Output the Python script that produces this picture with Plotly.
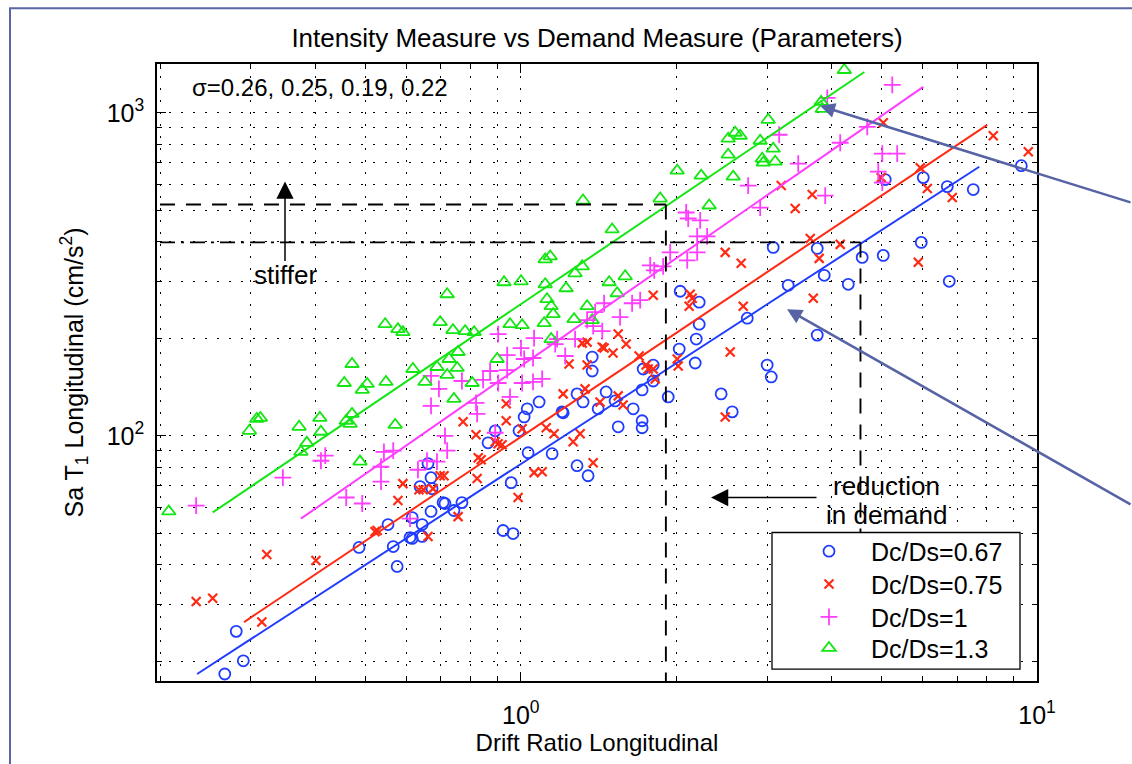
import plotly.graph_objects as go

# ---------------- data ----------------
blue_x = [0.267, 0.281, 0.290, 0.486, 0.566, 0.576, 0.553, 0.610, 0.616, 0.616,
          0.644, 0.644, 0.670, 0.707, 0.713, 0.742, 0.769, 0.638, 0.670, 0.661,
          0.673, 0.864, 0.892, 0.924, 0.958, 0.966, 0.992, 1.015, 1.029, 1.085,
          1.033, 1.150, 1.202, 1.208, 1.285, 1.320, 1.285, 1.350, 1.375, 1.375,
          1.412, 1.463, 1.523, 1.544, 1.651, 1.718, 1.718, 1.718, 1.726, 1.805,
          1.805, 1.930, 2.027, 2.177, 2.187, 2.216, 2.216, 2.444, 2.568, 2.746,
          3.001, 3.056, 3.752, 3.083, 3.752, 3.871, 3.296, 4.309, 4.585, 2.036,
          5.082, 6.021, 6.702, 7.525, 9.324, 5.967, 5.037, 6.761]
blue_y = [18.3, 24.8, 20.1, 45.1, 45.4, 39.4, 53.1, 48.4, 48.1, 55.8,
          48.8, 53.1, 58.3, 62.1, 61.7, 58.7, 62.1, 69.6, 74.2, 82.0,
          68.6, 95.1, 103.6, 50.9, 71.6, 49.8, 103.6, 114.4, 121.2, 127.3,
          88.6, 88.0, 118.6, 117.8, 134.8, 127.3, 80.8, 75.2, 175.3, 158.7,
          121.2, 136.7, 128.2, 106.6, 121.2, 111.3, 105.9, 138.7, 161.0, 165.6,
          147.8, 131.9, 185.5, 168.0, 199.3, 221.6, 259.2, 134.8, 118.6, 231.3,
          165.6, 152.1, 205.0, 383.1, 380.4, 314.0, 292.4, 294.5, 356.8, 280.2,
          621.3, 630.1, 591.0, 578.5, 686.0, 397.0, 361.9, 300.9]

red_x = [0.235, 0.253, 0.315, 0.322, 0.401, 0.522, 0.527, 0.578, 0.591, 0.635,
         0.647, 0.661, 0.676, 0.698, 0.710, 0.756, 0.773, 0.819, 0.827, 0.838,
         0.823, 0.892, 0.904, 0.920, 0.937, 0.937, 0.988, 1.006, 1.061, 1.100,
         1.120, 1.160, 1.208, 1.240, 1.263, 1.303, 1.315, 1.344, 1.332, 1.344,
         1.381, 1.424, 1.438, 1.450, 1.509, 1.544, 1.544, 1.578, 1.600, 1.695,
         1.749, 1.765, 1.805, 1.821, 2.009, 2.018, 2.119, 2.148, 2.129, 1.805,
         2.489, 2.545, 2.697, 3.686, 2.489, 2.673, 3.195, 3.401, 3.669, 3.637,
         3.785, 4.157, 5.037, 8.228, 9.619, 5.940, 6.130, 6.853, 5.888, 4.992]
red_y = [30.7, 31.4, 26.5, 42.9, 41.1, 50.5, 50.9, 63.0, 71.1, 68.1,
         68.1, 48.8, 68.6, 75.2, 75.2, 56.2, 110.5, 100.7, 85.5, 84.3,
         73.7, 95.8, 94.5, 93.8, 125.6, 111.3, 64.4, 105.1, 76.9, 77.4,
         105.9, 101.4, 134.8, 166.8, 95.8, 101.4, 193.6, 195.0, 139.7, 165.6,
         82.5, 127.3, 188.2, 186.9, 180.4, 206.5, 132.9, 124.6, 192.3, 176.6,
         165.6, 161.0, 161.0, 150.0, 172.9, 164.4, 251.9, 266.6, 274.3, 272.3,
         114.4, 181.7, 251.9, 266.6, 369.8, 342.0, 595.3, 505.4, 558.4, 408.4,
         354.3, 391.4, 931.3, 849.2, 757.8, 676.4, 582.7, 546.7, 344.4, 630.1]

mag_x = [0.235, 0.346, 0.410, 0.418, 0.459, 0.493, 0.536, 0.536, 0.543, 0.566,
         0.610, 0.632, 0.658, 0.670, 0.688, 0.694, 0.713, 0.720, 0.670, 0.769,
         0.819, 0.823, 0.845, 0.872, 0.904, 0.904, 0.892, 0.941, 0.941, 0.953,
         1.001, 1.006, 1.015, 1.061, 1.056, 1.056, 1.100, 1.166, 1.176, 1.219,
         1.274, 1.344, 1.381, 1.438, 1.450, 1.393, 1.557, 1.643, 1.703, 1.781,
         1.813, 1.887, 1.947, 2.091, 2.110, 2.226, 2.196, 2.296, 2.196, 2.101,
         2.757, 2.909, 3.166, 3.447, 3.888, 3.923, 4.157, 4.689, 5.015, 5.360,
         4.926, 5.015, 5.243]
mag_y = [60.8, 74.2, 83.7, 86.8, 64.4, 61.7, 80.2, 72.1, 89.2, 89.9,
         55.4, 78.5, 83.7, 123.8, 83.2, 139.7, 100.0, 89.9, 153.2, 147.8,
         126.4, 116.9, 148.9, 158.7, 145.7, 206.5, 102.2, 177.8, 159.8, 131.9,
         186.9, 145.7, 172.9, 200.7, 174.1, 146.8, 150.0, 192.3, 199.3, 176.6,
         199.3, 228.0, 218.5, 210.9, 257.3, 241.4, 232.9, 257.3, 262.9, 337.2,
         325.4, 334.8, 369.8, 491.3, 470.8, 464.2, 414.3, 414.3, 369.8, 349.3,
         595.3, 509.0, 855.2, 696.0, 554.4, 1112.0, 808.0, 905.3, 747.3, 747.3,
         657.5, 608.2, 1220.0]

green_x = [0.208, 0.298, 0.308, 0.313, 0.372, 0.385, 0.375, 0.408, 0.410, 0.459,
           0.467, 0.471, 0.488, 0.571, 0.455, 0.471, 0.493, 0.504, 0.548, 0.546,
           0.578, 0.591, 0.618, 0.652, 0.688, 0.698, 0.720, 0.726, 0.739, 0.742,
           0.753, 0.756, 0.780, 0.805, 0.812, 0.900, 0.720, 0.953, 1.006, 0.928,
           1.001, 1.115, 1.124, 1.145, 1.155, 1.110, 1.145, 1.224, 1.268, 1.344,
           1.375, 1.483, 1.537, 1.320, 1.503, 1.274, 1.315, 1.593, 1.862, 2.009,
           2.236, 2.317, 2.579, 2.522, 2.522, 2.602, 2.661, 2.909, 3.015, 3.083,
           2.935, 2.949, 3.110, 4.233, 3.819, 3.836, 1.115, 1.140]
green_y = [58.3, 103.6, 112.8, 113.6, 106.6, 95.1, 89.2, 113.6, 102.9, 111.3,
           108.9, 116.9, 83.2, 108.1, 145.7, 166.8, 138.7, 144.7, 146.8, 221.6,
           213.9, 209.4, 161.0, 146.8, 163.3, 224.9, 154.3, 172.9, 212.4, 130.1,
           162.2, 181.7, 210.9, 145.7, 209.4, 172.9, 274.3, 221.6, 220.0, 298.8,
           300.9, 294.5, 264.8, 251.9, 238.0, 223.2, 199.3, 286.3, 229.7, 251.9,
           228.0, 298.8, 276.3, 535.1, 435.4, 318.5, 334.8, 311.8, 542.8, 662.2,
           639.1, 516.4, 634.6, 742.0, 831.5, 867.7, 849.2, 819.6, 951.4, 774.3,
           721.1, 701.0, 706.1, 1357.0, 1081.0, 1028.0, 351.8, 359.4]

# fitted lines (end points)
blue_fit_x, blue_fit_y = [0.236, 7.73], [18.3, 681.0]
red_fit_x, red_fit_y = [0.291, 8.01], [26.5, 918.0]
mag_fit_x, mag_fit_y = [0.375, 6.02], [55.4, 1203.0]
green_fit_x, green_fit_y = [0.253, 4.63], [57.9, 1338.0]

# reference (threshold) lines
upper_level, lower_level = 520.0, 397.0
upper_drift, lower_drift = 1.91, 4.55
ref_left = 0.2
v2_bottom = 43.0
axis_bottom = 17.0

labels = ["Dc/Ds=0.67", "Dc/Ds=0.75", "Dc/Ds=1", "Dc/Ds=1.3"]
x_tickvals = [1, 10]
x_ticktext = ["10<sup>0</sup>", "10<sup>1</sup>"]
y_tickvals = [100, 1000]
y_ticktext = ["10<sup>2</sup>", "10<sup>3</sup>"]

# ---------------- figure ----------------
FONT = "Liberation Sans, Arial, Helvetica, sans-serif"
BLUE, RED, MAG, GREEN = "#1f3cff", "#ff2a14", "#ff3dff", "#14e614"

W, H = 1132, 764
L, R, T, B = 157, 95, 64, 81
PW, PH = W - L - R, H - T - B


def px(xp):
    return (xp - L) / PW


def py(yp):
    return (H - B - yp) / PH


fig = go.Figure()

series = [
    (labels[0], blue_x, blue_y, "circle-open", 11, BLUE, "legend", 1.8),
    (labels[1], red_x, red_y, "x-thin-open", 9, RED, "legend2", 2.2),
    (labels[2], mag_x, mag_y, "cross-thin-open", 12, MAG, "legend3", 1.8),
    (labels[3], green_x, green_y, "triangle-up-open", 12, GREEN, "legend4", 1.8),
]
for name, xs, ys, sym, size, col, leg, lw in series:
    fig.add_trace(go.Scatter(
        x=xs, y=ys, mode="markers", name=name, legend=leg,
        marker=dict(symbol=sym, size=size, color=col, line=dict(width=lw, color=col)),
    ))

for fx, fy, col in [(blue_fit_x, blue_fit_y, BLUE), (red_fit_x, red_fit_y, RED),
                    (mag_fit_x, mag_fit_y, MAG), (green_fit_x, green_fit_y, GREEN)]:
    fig.add_trace(go.Scatter(x=fx, y=fy, mode="lines", showlegend=False,
                             line=dict(color=col, width=2)))

dash = "15px,11px"
dashdot = "15px,6px,3px,6px"
ref_lines = [
    ([ref_left, upper_drift], [upper_level, upper_level], dash),
    ([upper_drift, upper_drift], [upper_level, axis_bottom], dash),
    ([ref_left, lower_drift], [lower_level, lower_level], dashdot),
    ([lower_drift, lower_drift], [lower_level, v2_bottom], dash),
]
for rx, ry, d in ref_lines:
    fig.add_trace(go.Scatter(x=rx, y=ry, mode="lines", showlegend=False,
                             line=dict(color="black", width=1.9, dash=d)))

grid_dash = "2px,10px"
axis_common = dict(
    type="log", showline=True, linecolor="black", linewidth=1.5, mirror="ticks",
    ticks="inside", ticklen=9, tickwidth=1.2, tickcolor="black",
    showgrid=True, gridcolor="black", gridwidth=1, griddash=grid_dash,
    zeroline=False, tickmode="array",
    tickfont=dict(family=FONT, size=25, color="black"),
    minor=dict(ticks="inside", ticklen=5, tickwidth=1, tickcolor="black",
               showgrid=True, gridcolor="black", gridwidth=1, griddash=grid_dash,
               dtick="D1"),
)

fig.update_layout(
    width=W, height=H, autosize=False,
    margin=dict(l=L, r=R, t=T, b=B, pad=0),
    paper_bgcolor="white", plot_bgcolor="white",
    font=dict(family=FONT, color="black"),
    title=dict(text="Intensity Measure vs Demand Measure (Parameters)",
               x=0.5, xref="paper", xanchor="center",
               y=1 - 38 / H, yref="container", yanchor="middle",
               font=dict(family=FONT, size=26, color="black")),
    xaxis=dict(axis_common, range=[-0.7048, 1.0], tickvals=x_tickvals, ticktext=x_ticktext,
               ticklabelstandoff=11,
               title=dict(text="Drift Ratio Longitudinal", standoff=6,
                          font=dict(family=FONT, size=24, color="black"))),
    yaxis=dict(axis_common, range=[1.2407, 3.1512], tickvals=y_tickvals, ticktext=y_ticktext,
               ticklabelstandoff=6,
               title=dict(text="Sa T<sub>1</sub> Longitudinal (cm/s<sup>2</sup>)", standoff=16,
                          font=dict(family=FONT, size=25, color="black"))),
)

leg_rows = [553, 586, 619, 650]
for key, row in zip(["legend", "legend2", "legend3", "legend4"], leg_rows):
    fig.update_layout({key: dict(x=px(787), y=py(row), xanchor="left", yanchor="middle",
                                 bgcolor="rgba(0,0,0,0)", borderwidth=0, itemwidth=74,
                                 font=dict(family=FONT, size=25, color="black"))})

# legend box
fig.add_shape(type="rect", xref="paper", yref="paper",
              x0=px(772), x1=px(1020), y0=py(671), y1=py(534),
              line=dict(color="black", width=1.3), fillcolor="white", layer="above")
# outer frame
fig.add_shape(type="rect", xref="paper", yref="paper",
              x0=px(10), x1=px(1145), y0=py(775), y1=py(8),
              line=dict(color="#5a66a6", width=2), fillcolor="rgba(0,0,0,0)", layer="above")

ann = [
    dict(text="\u03c3=0.26, 0.25, 0.19, 0.22", x=px(190), y=py(88), xanchor="left",
         yanchor="middle", showarrow=False, font=dict(family=FONT, size=24, color="black")),
    dict(text="stiffer", x=px(285), y=py(276), xanchor="center", yanchor="middle",
         showarrow=False, font=dict(family=FONT, size=26, color="black")),
    dict(text="reduction", x=px(886), y=py(487), xanchor="center", yanchor="middle",
         showarrow=False, font=dict(family=FONT, size=26, color="black")),
    dict(text="in demand", x=px(886), y=py(516), xanchor="center", yanchor="middle",
         showarrow=False, font=dict(family=FONT, size=26, color="black")),
    # black arrows
    dict(text="", x=px(285), y=py(182), ax=0, ay=81, showarrow=True,
         arrowhead=2, arrowsize=2.3, arrowwidth=1.5, arrowcolor="black"),
    dict(text="", x=px(711), y=py(499), ax=107, ay=0, showarrow=True,
         arrowhead=2, arrowsize=2.3, arrowwidth=1.5, arrowcolor="black"),
    # slate-blue pointer arrows coming from outside
    dict(text="", x=px(820), y=py(106), ax=312, ay=97, showarrow=True,
         arrowhead=2, arrowsize=1.2, arrowwidth=2.5, arrowcolor="#5663a4"),
    dict(text="", x=px(787), y=py(310), ax=345, ay=196, showarrow=True,
         arrowhead=2, arrowsize=1.2, arrowwidth=2.5, arrowcolor="#5663a4"),
]
for a in ann:
    a.setdefault("xref", "paper")
    a.setdefault("yref", "paper")
    fig.add_annotation(**a)

fig.write_html("out.html")
